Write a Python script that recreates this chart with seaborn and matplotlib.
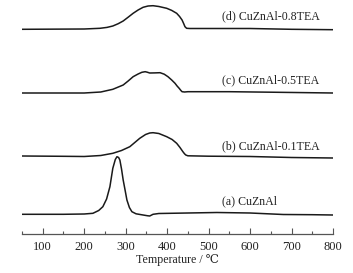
import matplotlib
matplotlib.use('Agg')
import matplotlib.pyplot as plt
import pandas as pd
import seaborn as sns
from matplotlib.ticker import MultipleLocator

# TPR profiles, temperature (°C) vs relative signal
temp_a = [50, 150, 200, 221, 235, 245, 254, 262, 269, 275, 279, 283, 286, 290, 294, 299, 303, 309, 315, 325,
          342, 352, 358, 366, 380, 450, 520, 600, 680, 750, 800]
sig_a = [0.7, 0.7, 1, 1.7, 4.5, 8.3, 16, 28.3, 46.7, 55.5, 58.3, 57.5, 55, 46, 35, 24, 15, 7.5, 3.3, 1.2,
         0, -0.7, -1, 0.7, 1.5, 2, 2.5, 2, 0.5, 0.3, 0]

temp_b = [50, 150, 200, 240, 269, 290, 310, 322, 334, 348, 358, 366, 380, 399, 412, 423, 431, 438, 442, 445,
          450, 500, 600, 700, 800]
sig_b = [2, 1.7, 1.5, 2.5, 4.7, 7.5, 11.3, 15.5, 19.7, 23.5, 25, 25.3, 24.5, 21.3, 18.5, 14.7, 10.5, 6.3, 4.2, 3,
         2.2, 1.8, 1.5, 0.5, 0]

temp_c = [50, 200, 240, 269, 294, 306, 318, 330, 339, 347, 352, 358, 370, 383, 393, 402, 411, 419, 424, 429,
          433, 436, 442, 450, 550, 650, 800]
sig_c = [0, 0, 1, 3.7, 8, 12, 16.3, 19, 20.7, 21.3, 20.8, 20, 20.1, 20.3, 18.8, 16.3, 13, 9.7, 7, 4.7,
         2.6, 1.3, 1, 1.3, 1.3, 0.8, 0]

temp_d = [50, 200, 238, 255, 269, 282, 294, 306, 318, 330, 342, 354, 366, 380, 399, 411, 423, 430, 436, 440,
          443, 447, 455, 600, 700, 800]
sig_d = [0.7, 1, 1.7, 2.6, 4, 6.3, 9, 12.8, 16.7, 20, 22.7, 24, 24.3, 23.5, 21.7, 19.6, 16.7, 13.5, 10, 6.3,
         3.3, 1.7, 1.5, 1.5, 0.7, 0.3]

labels = ['(a) CuZnAl', '(b) CuZnAl-0.1TEA', '(c) CuZnAl-0.5TEA', '(d) CuZnAl-0.8TEA']
offsets = [58, 115, 180, 243]

curves = [(temp_a, sig_a), (temp_b, sig_b), (temp_c, sig_c), (temp_d, sig_d)]
frames = []
for (t, s), lab, off in zip(curves, labels, offsets):
    frames.append(pd.DataFrame({'T': t, 'y': [v + off for v in s], 'sample': lab}))
df = pd.concat(frames, ignore_index=True)

sns.set_theme(style='white')
plt.rcParams['font.family'] = ['Liberation Serif', 'DejaVu Serif']

fig = plt.figure(figsize=(3.53, 2.73), dpi=100)
ax = fig.add_axes([22 / 353, 39 / 273, 311 / 353, 234 / 273])

sns.lineplot(data=df, x='T', y='y', units='sample', estimator=None, color='#1a1a1a',
             linewidth=1.1, sort=False, ax=ax, legend=False)

# sample names above each trace
label_y = [72, 127, 193, 257]
for lab, ly in zip(labels, label_y):
    ax.text(532, ly, lab, fontsize=8.6, va='center', ha='left', color='#222222')

ax.set_xlim(50, 800)
ax.set_ylim(39, 273)
ax.set_yticks([])
ax.xaxis.set_major_locator(MultipleLocator(100))
ax.xaxis.set_minor_locator(MultipleLocator(50))
ax.tick_params(axis='x', which='major', direction='in', length=4, width=0.8, color='#555555',
               labelsize=9, pad=5, bottom=True, labelcolor='#222222')
ax.tick_params(axis='x', which='minor', direction='in', length=2.5, width=0.8, color='#555555', bottom=True)
for side in ['top', 'left', 'right']:
    ax.spines[side].set_visible(False)
ax.spines['bottom'].set_color('#555555')
ax.spines['bottom'].set_linewidth(0.9)

ax.set_xlabel('Temperature / ℃', fontsize=8.6, labelpad=1, color='#222222')
ax.set_ylabel('')

plt.savefig('out.png', dpi=100)
